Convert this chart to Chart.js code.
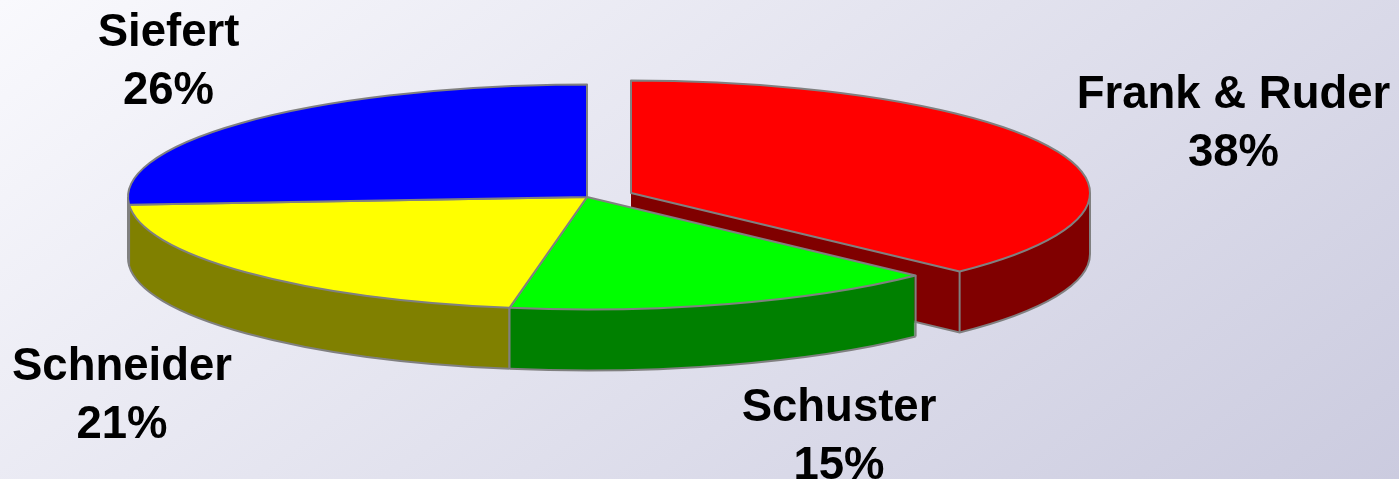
<!DOCTYPE html>
<html>
<head>
<meta charset="utf-8">
<style>
    html, body { margin: 0; padding: 0; overflow: hidden; }
    body { width: 1399px; height: 479px; background: linear-gradient(143deg, #f9f9fd 0%, #cbcbdf 100%); }
    canvas { display: block; }
</style>
<script src="https://cdn.jsdelivr.net/npm/chart.js@4/dist/chart.umd.js"></script>
</head>
<body>
<canvas id="pieChart" width="1399" height="479"></canvas>
<script>
// Chart values
const names = ["Frank & Ruder", "Schuster", "Schneider", "Siefert"];
const percentLabels = ["38%", "15%", "21%", "26%"];
// Slice sizes as measured on the picture, the printed labels are rounded
const sliceShares = [37.3, 15.4, 21.2, 26.1];
const topColors = ["#ff0000", "#00ff00", "#ffff00", "#0000ff"];
const sideColors = ["#800000", "#008000", "#808000", "#000080"];

// Layout of the tilted pie
const pieX = 587;
const pieY = 197;
const pieRadius = 459;
const squash = 0.245;
const wallDepth = 61;
const outlineColor = "#808080";
const explodeX = [44, 0, 0, 0];
const explodeY = [-4, 0, 0, 0];
const wallOrder = [3, 0, 2, 1];

// Label centres and baselines
const labelX = [1233.5, 839, 122, 168.5];
const labelY = [108, 421, 380, 45.5];
const lineGap = 58;

/**
 * Set the path of a piece of ellipse for one slice, the transform is only used while tracing
 */
function tracePath(ctx, arc, i, lift, trace) {
    ctx.save();
    ctx.translate(pieX + explodeX[i], pieY + explodeY[i] + lift);
    ctx.scale(1, squash);
    ctx.translate(-arc.x, -arc.y);
    trace();
    ctx.restore();
}

function drawWall(ctx, arc, i) {
    // stack of dark copies makes the side of the slice
    ctx.fillStyle = sideColors[i];
    for (let lift = wallDepth; lift > 0; lift--) {
        ctx.beginPath();
        tracePath(ctx, arc, i, lift, () => {
            ctx.moveTo(arc.x, arc.y);
            ctx.arc(arc.x, arc.y, arc.outerRadius, arc.startAngle, arc.endAngle);
            ctx.closePath();
        });
        ctx.fill();
    }

    const from = Math.max(arc.startAngle, 0);
    const to = Math.min(arc.endAngle, Math.PI);
    if (from >= to) return;

    ctx.strokeStyle = outlineColor;
    ctx.lineWidth = 2;

    // bottom rim
    ctx.beginPath();
    tracePath(ctx, arc, i, wallDepth, () => {
        ctx.arc(arc.x, arc.y, arc.outerRadius, from, to);
        if (explodeX[i] !== 0) ctx.lineTo(arc.x, arc.y);
    });
    ctx.stroke();

    // vertical edges of the wall
    for (const angle of [from, to]) {
        const px = pieX + explodeX[i] + Math.cos(angle) * arc.outerRadius;
        const py = pieY + explodeY[i] + Math.sin(angle) * arc.outerRadius * squash;
        ctx.beginPath();
        ctx.moveTo(px, py);
        ctx.lineTo(px, py + wallDepth);
        ctx.stroke();
    }
}

function drawTop(ctx, arc, i) {
    ctx.save();
    ctx.translate(pieX + explodeX[i], pieY + explodeY[i]);
    ctx.scale(1, squash);
    ctx.translate(-arc.x, -arc.y);
    arc.draw(ctx);
    ctx.restore();

    ctx.strokeStyle = outlineColor;
    ctx.lineWidth = 2;
    ctx.lineJoin = "round";
    ctx.beginPath();
    tracePath(ctx, arc, i, 0, () => {
        ctx.moveTo(arc.x, arc.y);
        ctx.arc(arc.x, arc.y, arc.outerRadius, arc.startAngle, arc.endAngle);
        ctx.closePath();
    });
    ctx.stroke();
}

// Chart.js has no 3D pie, so the slices are drawn tilted from here
const tiltedPie = {
    id: "tiltedPie",
    beforeDatasetsDraw(chart) {
        const ctx = chart.ctx;
        const arcs = chart.getDatasetMeta(0).data;

        wallOrder.forEach(i => drawWall(ctx, arcs[i], i));
        arcs.forEach((arc, i) => drawTop(ctx, arc, i));

        return false;
    },
    afterDraw(chart) {
        const ctx = chart.ctx;
        ctx.save();
        ctx.fillStyle = "#000000";
        ctx.font = "bold 45.5px 'Liberation Sans', Arial, sans-serif";
        ctx.textAlign = "center";
        ctx.textBaseline = "alphabetic";
        names.forEach((name, i) => {
            ctx.fillText(name, labelX[i], labelY[i]);
            ctx.fillText(percentLabels[i], labelX[i], labelY[i] + lineGap);
        });
        ctx.restore();
    }
};

new Chart(document.getElementById("pieChart"), {
    type: "pie",
    data: {
        labels: names,
        datasets: [{
            data: sliceShares,
            backgroundColor: topColors,
            borderWidth: 0,
            radius: pieRadius
        }]
    },
    options: {
        responsive: false,
        animation: false,
        radius: pieRadius,
        plugins: {
            legend: { display: false },
            tooltip: { enabled: false }
        }
    },
    plugins: [tiltedPie]
});
</script>
</body>
</html>
